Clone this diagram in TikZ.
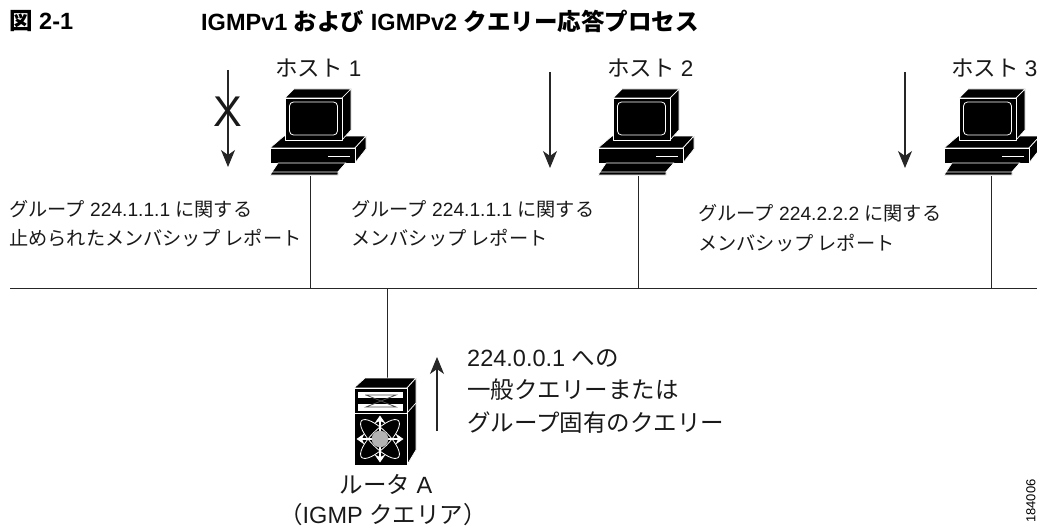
\documentclass[tikz,border=0pt]{standalone}
\usepackage{fontspec}
\setmainfont{Liberation Sans}
\newfontfamily\jp{Noto Sans CJK JP}
\newcommand{\J}[1]{{\jp #1}}
\usetikzlibrary{arrows.meta}
\tikzset{
  x=1pt,y=-1pt,
  wire/.style={draw=black!85,line width=1pt},
  flow/.style={draw=black!85,line width=1.1pt,-{Stealth[length=17pt,width=14pt,inset=5pt]}},
  lab/.style={anchor=west,inner sep=0pt,font=\fontsize{19.2}{24}\selectfont,text=black!90},
  lab2/.style={anchor=west,inner sep=0pt,font=\fontsize{23.5}{28}\selectfont,text=black!90},
  hostlab/.style={anchor=west,inner sep=0pt,font=\fontsize{22.5}{26}\selectfont,text=black!90},
  title/.style={anchor=west,inner sep=0pt,font=\bfseries\fontsize{23.5}{28}\selectfont},
  hair/.style={draw=white,line width=.7pt,line join=round,fill=black},
  pics/pc/.style={code={
    \path[hair] (0,59)--(14,47)--(96,47)--(85,59)--cycle;
    \path[hair] (85,59)--(96,47)--(96,60)--(85,74)--cycle;
    \path[hair] (0,59) rectangle (85,74);
    \draw[white,line width=1.2pt] (58,67.5)--(80,67.5);
    \path[hair] (0,86)--(8,74)--(76,74)--(68,83)--(68,86)--cycle;
    \draw[white,line width=.8pt] (0,83)--(68,83)--(76,74);
    \path[hair] (15,9)--(24,0)--(81,0)--(72,9)--cycle;
    \path[hair] (72,9)--(81,0)--(81,41)--(72,51)--cycle;
    \path[hair] (15,9) rectangle (72,51);
    \draw[white,line width=.8pt,rounded corners=4pt] (19.5,13) rectangle (67.5,46);
  }}
}
\begin{document}
\begin{tikzpicture}
\useasboundingbox (0,0) rectangle (1037,527);
\clip (0,0) rectangle (1037,527);
\path[fill=white] (0,0) rectangle (1037,527);

\node[title] (fig) at (9,21) {\J{図} 2-1};
\node[title] (cap) at (201,21) {IGMPv1 \J{および} IGMPv2 \J{クエリー応答プロセス}};

\coordinate (busL) at (10,288);
\coordinate (busR) at (1037,288);
\draw[wire] (busL)--(busR);

\pic at (270,89) {pc};
\pic at (598,89) {pc};
\pic at (944,89) {pc};
\coordinate (h1) at (310,176);
\coordinate (h2) at (638,176);
\coordinate (h3) at (991,176);
\coordinate (b1) at (310,288);
\coordinate (b2) at (638,288);
\coordinate (b3) at (991,288);
\draw[wire] (h1)--(b1);
\draw[wire] (h2)--(b2);
\draw[wire] (h3)--(b3);

\node[hostlab] (t1) at (275,68) {\J{ホスト} 1};
\node[hostlab] (t2) at (607,68) {\J{ホスト} 2};
\node[hostlab] (t3) at (951,68) {\J{ホスト} 3};

\coordinate (a1s) at (228,70); \coordinate (a1e) at (228,167);
\coordinate (a2s) at (550,72); \coordinate (a2e) at (550,168);
\coordinate (a3s) at (905,72); \coordinate (a3e) at (905,168);
\draw[flow] (a1s)--(a1e);
\draw[flow] (a2s)--(a2e);
\draw[flow] (a3s)--(a3e);
\node[inner sep=0pt,font=\fontsize{43}{43}\selectfont,text=black!90] (x) at (228,112) {X};

\node[lab] (l1a) at (9,209) {\J{グループ} 224.1.1.1 \J{に関する}};
\node[lab] (l1b) at (9,238) {\J{止められたメンバシップ レポート}};
\node[lab] (l2a) at (351,209) {\J{グループ} 224.1.1.1 \J{に関する}};
\node[lab] (l2b) at (351,238) {\J{メンバシップ レポート}};
\node[lab] (l3a) at (698,213) {\J{グループ} 224.2.2.2 \J{に関する}};
\node[lab] (l3b) at (698,243) {\J{メンバシップ レポート}};

\coordinate (r1) at (387,288);
\coordinate (r2) at (387,378);
\draw[wire] (r1)--(r2);
\path[hair] (354,388)--(365,378)--(416,378)--(407,388)--cycle;
\path[hair] (407,388)--(416,378)--(416,450)--(407,465)--cycle;
\path[hair] (354,388) rectangle (407,413);
\path[hair] (354,413) rectangle (407,465);
\draw[white,line width=.7pt] (407,413)--(416,403);
\fill[white] (358,392) rectangle (403,398);
\fill[white] (358,404) rectangle (403,411);
\draw[black!70,line width=.8pt] (365,395)--(396,395)--(366,407)--(396,407)--(366,395);
\begin{scope}[shift={(380,439)}]
  \draw[white,line width=.8pt] (0,0) ellipse [x radius=9,y radius=26,rotate=45];
  \draw[white,line width=.8pt] (0,0) ellipse [x radius=9,y radius=26,rotate=-45];
  \foreach \a in {0,90,180,270}{
    \draw[white,line width=2pt,-{Stealth[length=8pt,width=11pt]}] (0,0)--++(\a:23.5);
  }
  \fill[black!30] (0,0) circle [radius=8.3];
\end{scope}

\coordinate (ua) at (437,431);
\coordinate (ub) at (437,357);
\draw[flow] (ua)--(ub);

\node[lab2] (q1) at (467,358) {224.0.0.1 \J{への}};
\node[lab2] (q2) at (467,390) {\J{一般クエリーまたは}};
\node[lab2] (q3) at (467,423) {\J{グループ固有のクエリー}};

\node[lab2,anchor=center] (ra) at (386,484) {\J{ルータ} A};
\node[lab2,anchor=center] (rb) at (383,515) {\J{（}IGMP \J{クエリア）}};

\node[inner sep=0pt,rotate=90,anchor=west,font=\fontsize{13}{15}\selectfont] (id) at (1031,523) {184006};
\end{tikzpicture}
\end{document}
